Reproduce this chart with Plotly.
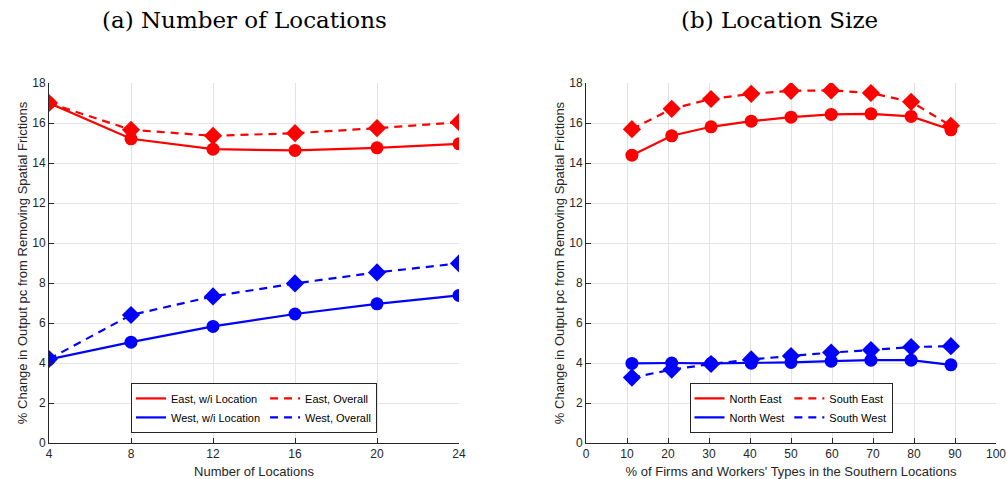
import plotly.graph_objects as go

# ---- Panel (a): Number of Locations ----
n_locations = [4, 8, 12, 16, 20, 24]
east_within = [17.0, 15.21, 14.69, 14.63, 14.76, 14.96]
east_overall = [17.0, 15.66, 15.36, 15.49, 15.74, 16.04]
west_within = [4.18, 5.04, 5.83, 6.45, 6.96, 7.38]
west_overall = [4.2, 6.40, 7.33, 7.98, 8.53, 8.98]

# ---- Panel (b): Location Size ----
share_south = [11.2, 20.9, 30.5, 40.3, 50.0, 59.8, 69.5, 79.3, 89.0]
north_east = [14.39, 15.36, 15.81, 16.09, 16.29, 16.43, 16.46, 16.33, 15.66]
south_east = [15.69, 16.71, 17.20, 17.46, 17.61, 17.63, 17.50, 17.06, 15.86]
north_west = [3.98, 4.00, 3.98, 3.99, 4.03, 4.09, 4.14, 4.14, 3.91]
south_west = [3.27, 3.67, 3.95, 4.18, 4.35, 4.52, 4.65, 4.80, 4.84]

y_ticks = [0, 2, 4, 6, 8, 10, 12, 14, 16, 18]
x_ticks_a = [4, 8, 12, 16, 20, 24]
x_ticks_b = [0, 10, 20, 30, 40, 50, 60, 70, 80, 90, 100]

RED = "#ff0000"
BLUE = "#0000ff"
AXC = "#262626"
GRID = "#e3e3e3"

fig = go.Figure()

def add_series(x, y, name, color, dash, symbol, msize, xa, ya, legend, group):
    fig.add_trace(go.Scatter(
        x=x, y=y, mode="lines", name=name,
        line=dict(color=color, width=2.2, dash=dash),
        xaxis=xa, yaxis=ya, legend=legend, legendgroup=group,
        showlegend=True, hoverinfo="skip"))
    fig.add_trace(go.Scatter(
        x=x, y=y, mode="markers", name=name,
        marker=dict(color=color, size=msize, symbol=symbol, line=dict(width=0)),
        xaxis=xa, yaxis=ya, legend=legend, legendgroup=group,
        showlegend=False))

dash_style = "8px,6px"
add_series(n_locations, east_within, "East, w/i Location", RED, "solid", "circle", 13, "x", "y", "legend", "solid")
add_series(n_locations, west_within, "West, w/i Location", BLUE, "solid", "circle", 13, "x", "y", "legend", "solid")
add_series(n_locations, east_overall, "East, Overall", RED, dash_style, "diamond", 14, "x", "y", "legend", "dashed")
add_series(n_locations, west_overall, "West, Overall", BLUE, dash_style, "diamond", 14, "x", "y", "legend", "dashed")

add_series(share_south, north_east, "North East", RED, "solid", "circle", 13, "x2", "y2", "legend2", "solid")
add_series(share_south, north_west, "North West", BLUE, "solid", "circle", 13, "x2", "y2", "legend2", "solid")
add_series(share_south, south_east, "South East", RED, dash_style, "diamond", 14, "x2", "y2", "legend2", "dashed")
add_series(share_south, south_west, "South West", BLUE, dash_style, "diamond", 14, "x2", "y2", "legend2", "dashed")

tickfont = dict(family="Liberation Sans, Arial, sans-serif", size=12, color=AXC)
titlefont = dict(family="Liberation Sans, Arial, sans-serif", size=13, color=AXC)

common_x = dict(showline=True, linecolor=AXC, linewidth=1, mirror=False,
                showgrid=True, gridcolor=GRID, gridwidth=1, zeroline=False,
                ticks="inside", ticklen=5, tickcolor=AXC, tickfont=tickfont,
                automargin=False, ticklabeloverflow="allow")
common_y = dict(showline=True, linecolor=AXC, linewidth=1,
                showgrid=True, gridcolor=GRID, gridwidth=1, zeroline=False,
                ticks="inside", ticklen=5, tickcolor=AXC, tickfont=tickfont,
                range=[0, 18], tickvals=y_ticks, automargin=False,
                title=dict(text="% Change in Output pc from Removing Spatial Frictions",
                           font=titlefont, standoff=1))

W = 1006
ML, MR = 49, 10
PW = W - ML - MR
def px(v):
    return (v - ML) / PW

legend_font = dict(family="Liberation Sans, Arial, sans-serif", size=11, color="#000000")
title_font = dict(family="DejaVu Serif, Liberation Serif, serif", size=23, color="#000000")

fig.update_layout(
    width=1006, height=479,
    margin=dict(l=ML, r=MR, t=83, b=36),
    paper_bgcolor="white", plot_bgcolor="white",
    xaxis=dict(common_x, domain=[0, px(459)], range=[4, 24], tickvals=x_ticks_a,
               anchor="y",
               title=dict(text="Number of Locations", font=titlefont, standoff=8)),
    yaxis=dict(common_y, anchor="x"),
    xaxis2=dict(common_x, domain=[px(586), 1], range=[0, 100], tickvals=x_ticks_b,
                anchor="y2",
                title=dict(text="% of Firms and Workers' Types in the Southern Locations",
                           font=titlefont, standoff=8)),
    yaxis2=dict(common_y, anchor="x2"),
    legend=dict(orientation="h", traceorder="grouped", tracegroupgap=0,
                x=px(254), xanchor="center", y=0.028, yanchor="bottom",
                bgcolor="white", bordercolor=AXC, borderwidth=1, font=legend_font),
    legend2=dict(orientation="h", traceorder="grouped", tracegroupgap=0,
                 x=px(791), xanchor="center", y=0.028, yanchor="bottom",
                 bgcolor="white", bordercolor=AXC, borderwidth=1, font=legend_font),
    showlegend=True,
    annotations=[
        dict(text="(a) Number of Locations", xref="paper", yref="paper",
             x=px(244), y=1, yshift=83 - 20, xanchor="center", yanchor="middle",
             showarrow=False, font=title_font),
        dict(text="(b) Location Size", xref="paper", yref="paper",
             x=px(779), y=1, yshift=83 - 20, xanchor="center", yanchor="middle",
             showarrow=False, font=title_font),
    ],
)

fig.write_html("out.html", config={"displayModeBar": False},
               post_script="document.body.style.margin='0';document.body.style.overflow='hidden';")
